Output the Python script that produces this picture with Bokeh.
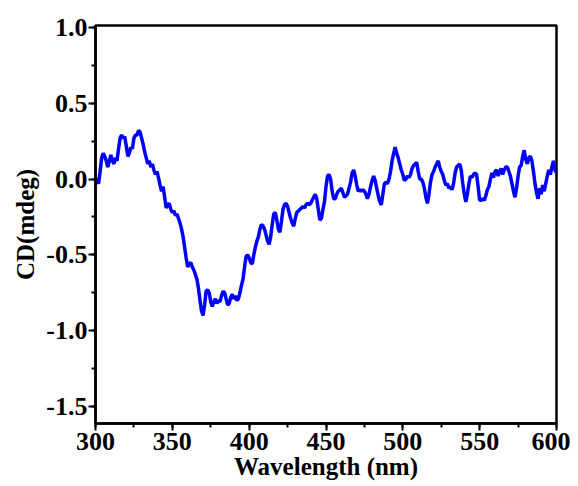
from bokeh.plotting import figure
from bokeh.models import SingleIntervalTicker, Range1d, PrintfTickFormatter
from bokeh.embed import file_html
from bokeh.resources import INLINE

wavelength = list(range(300, 601))
cd = [
    0.00, -0.01, -0.03, 0.05, 0.14,
    0.17, 0.15, 0.12, 0.08, 0.12, 0.16, 0.12, 0.10, 0.14, 0.12,
    0.20, 0.27, 0.29, 0.27, 0.28, 0.22, 0.15, 0.17, 0.21, 0.20,
    0.27, 0.29, 0.29, 0.32, 0.31, 0.27, 0.23, 0.18, 0.14, 0.10,
    0.12, 0.08, 0.10, 0.06, 0.03, 0.05, 0.01, -0.04, -0.08, -0.05,
    -0.12, -0.19, -0.17, -0.16, -0.20, -0.22, -0.21, -0.24, -0.23, -0.26,
    -0.29, -0.33, -0.38, -0.45, -0.52, -0.58, -0.56, -0.55, -0.58, -0.60,
    -0.63, -0.66, -0.72, -0.80, -0.87, -0.90, -0.83, -0.74, -0.73, -0.75,
    -0.81, -0.84, -0.81, -0.79, -0.82, -0.80, -0.81, -0.77, -0.74, -0.75,
    -0.79, -0.83, -0.82, -0.78, -0.76, -0.79, -0.77, -0.80, -0.79, -0.75,
    -0.70, -0.66, -0.58, -0.51, -0.50, -0.52, -0.55, -0.56, -0.50, -0.45,
    -0.41, -0.38, -0.33, -0.30, -0.31, -0.33, -0.37, -0.41, -0.43, -0.38,
    -0.30, -0.23, -0.22, -0.27, -0.33, -0.35, -0.28, -0.20, -0.17, -0.16,
    -0.18, -0.22, -0.26, -0.29, -0.31, -0.26, -0.22, -0.21, -0.20, -0.19,
    -0.18, -0.19, -0.17, -0.16, -0.17, -0.16, -0.14, -0.12, -0.10, -0.13,
    -0.20, -0.27, -0.26, -0.20, -0.15, -0.05, 0.02, 0.03, 0.00, -0.08,
    -0.13, -0.13, -0.10, -0.08, -0.07, -0.06, -0.09, -0.12, -0.11, -0.10,
    -0.06, -0.02, 0.04, 0.06, 0.02, -0.04, -0.08, -0.07, -0.08, -0.07,
    -0.08, -0.10, -0.13, -0.10, -0.05, -0.01, 0.02, -0.01, -0.06, -0.11,
    -0.15, -0.17, -0.10, -0.03, -0.02, -0.03, 0.00, 0.05, 0.12, 0.17,
    0.21, 0.17, 0.14, 0.10, 0.06, 0.03, -0.01, 0.00, 0.02, 0.01,
    0.03, 0.07, 0.09, 0.10, 0.11, 0.05, 0.00, 0.00, -0.02, -0.06,
    -0.12, -0.16, -0.10, -0.02, 0.03, 0.05, 0.08, 0.10, 0.12, 0.08,
    0.05, 0.03, -0.01, -0.04, -0.03, -0.06, -0.05, -0.07, -0.03, 0.04,
    0.08, 0.09, 0.10, 0.06, -0.03, -0.10, -0.15, -0.10, -0.03, 0.02,
    0.01, 0.03, 0.04, 0.03, -0.05, -0.14, -0.14, -0.13, -0.14, -0.11,
    -0.07, -0.05, 0.00, 0.04, 0.01, 0.05, 0.06, 0.02, 0.05, 0.07,
    0.03, 0.06, 0.08, 0.08, 0.05, 0.02, -0.03, -0.08, -0.12, -0.06,
    0.02, 0.08, 0.09, 0.15, 0.19, 0.13, 0.10, 0.14, 0.15, 0.12,
    0.05, -0.03, -0.09, -0.13, -0.06, -0.10, -0.04, -0.08, -0.03, 0.02,
    0.06, 0.03, 0.08, 0.12, 0.06, 0.04,
]

x_label = "Wavelength (nm)"
y_label = "CD(mdeg)"

p = figure(width=570, height=484, output_backend="svg", toolbar_location=None,
           x_range=Range1d(300, 600), y_range=Range1d(-1.612, 1.013))
p.min_border_left = 95
p.min_border_right = 14
p.min_border_top = 25
p.min_border_bottom = 61

p.line(wavelength, cd, line_color="#0000FF", line_width=3.5)

p.xgrid.visible = False
p.ygrid.visible = False
p.outline_line_color = "black"
p.outline_line_width = 2.5
p.background_fill_color = "white"
p.border_fill_color = "white"

p.xaxis.ticker = SingleIntervalTicker(interval=50, num_minor_ticks=2)
p.yaxis.ticker = SingleIntervalTicker(interval=0.5, num_minor_ticks=2)
p.yaxis.formatter = PrintfTickFormatter(format="%.1f")

for ax in (p.xaxis, p.yaxis):
    ax.axis_line_width = 2.5
    ax.axis_line_color = "black"
    ax.major_tick_line_width = 2
    ax.minor_tick_line_width = 2
    ax.major_tick_in = 0
    ax.major_tick_out = 7
    ax.minor_tick_in = 0
    ax.minor_tick_out = 4
    ax.major_label_text_font = "Liberation Serif"
    ax.major_label_text_font_style = "bold"
    ax.major_label_text_font_size = "26px"
    ax.major_label_text_color = "black"
    ax.axis_label_text_font = "Liberation Serif"
    ax.axis_label_text_font_style = "bold"
    ax.axis_label_text_font_size = "25px"
    ax.axis_label_text_color = "black"

p.xaxis.axis_label = x_label
p.yaxis.axis_label = y_label
p.xaxis.major_label_standoff = 2
p.xaxis.axis_label_standoff = 0
p.yaxis.major_label_standoff = 1
p.yaxis.axis_label_standoff = 4

open("out.html", "w").write(file_html(p, INLINE))
